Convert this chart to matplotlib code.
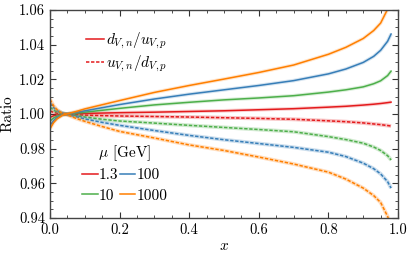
import matplotlib
matplotlib.use("Agg")
import matplotlib.pyplot as plt
from matplotlib.lines import Line2D
from matplotlib.ticker import MultipleLocator

plt.rcParams['font.family'] = 'serif'
plt.rcParams['font.serif'] = ['cmr10']
plt.rcParams['mathtext.fontset'] = 'cm'
plt.rcParams['axes.formatter.use_mathtext'] = True

x = [0.0, 0.01, 0.02, 0.035, 0.05, 0.075, 0.1, 0.15, 0.2, 0.3, 0.4, 0.5, 0.6,
     0.7, 0.8, 0.85, 0.9, 0.93, 0.95, 0.97, 0.98]

scales = ["1.3", "10", "100", "1000"]

dn_up_13 = [0.9982, 0.9990, 0.9995, 0.9999, 1.0001, 1.0002, 1.0004, 1.0006, 1.0008, 1.0011, 1.0015,
            1.0019, 1.0025, 1.0031, 1.0040, 1.0045, 1.0052, 1.0057, 1.0061, 1.0066, 1.0069]
un_dp_13 = [1.0018, 1.0010, 1.0005, 1.0001, 0.9999, 0.9996, 0.9994, 0.9991, 0.9989, 0.9986, 0.9983,
            0.9979, 0.9975, 0.9970, 0.9961, 0.9956, 0.9949, 0.9943, 0.9939, 0.9934, 0.9931]

dn_up_10 = [0.9960, 0.9977, 0.9988, 0.9996, 1.0001, 1.0006, 1.0011, 1.0022, 1.0033, 1.0053, 1.0068,
            1.0082, 1.0093, 1.0106, 1.0127, 1.0140, 1.0157, 1.0175, 1.0192, 1.0222, 1.0248]
un_dp_10 = [1.0040, 1.0023, 1.0012, 1.0004, 0.9999, 0.9991, 0.9983, 0.9970, 0.9960, 0.9948, 0.9935,
            0.9923, 0.9911, 0.9898, 0.9870, 0.9853, 0.9832, 0.9810, 0.9790, 0.9760, 0.9735]

dn_up_100 = [0.9935, 0.9962, 0.9980, 0.9994, 1.0001, 1.0010, 1.0019, 1.0037, 1.0055, 1.0087, 1.0115,
             1.0140, 1.0165, 1.0193, 1.0232, 1.0260, 1.0298, 1.0333, 1.0368, 1.0420, 1.0462]
un_dp_100 = [1.0065, 1.0038, 1.0020, 1.0006, 0.9998, 0.9985, 0.9972, 0.9952, 0.9935, 0.9905, 0.9877,
             0.9852, 0.9830, 0.9808, 0.9780, 0.9755, 0.9717, 0.9685, 0.9655, 0.9610, 0.9573]

dn_up_1000 = [0.9915, 0.9950, 0.9972, 0.9992, 1.0002, 1.0015, 1.0030, 1.0054, 1.0078, 1.0125, 1.0165,
              1.0202, 1.0240, 1.0283, 1.0345, 1.0385, 1.0436, 1.0482, 1.0525, 1.0605, 1.0680]
un_dp_1000 = [1.0085, 1.0048, 1.0025, 1.0005, 0.9995, 0.9975, 0.9958, 0.9928, 0.9900, 0.9862, 0.9822,
              0.9790, 0.9752, 0.9712, 0.9665, 0.9625, 0.9573, 0.9530, 0.9490, 0.9410, 0.9350]

solid = [dn_up_13, dn_up_10, dn_up_100, dn_up_1000]
dashed = [un_dp_13, un_dp_10, un_dp_100, un_dp_1000]
colors = ['#e41a1c', '#4daf4a', '#377eb8', '#ff7f00']

fig = plt.figure(figsize=(4.07, 2.65), dpi=100)
ax = fig.add_axes([0.123, 0.177, 0.855, 0.785])

dash = (0, (2.2, 1.1))
for s, d, c in zip(solid, dashed, colors):
    ax.plot(x, s, color=c, lw=2.6, alpha=0.2, solid_capstyle='butt')
    ax.plot(x, d, color=c, lw=2.8, alpha=0.25, solid_capstyle='butt')
    ax.plot(x, s, color=c, lw=1.1)
    ax.plot(x, d, color=c, lw=1.1, ls=dash)

ax.set_xlim(0, 1)
ax.set_ylim(0.94, 1.06)
ax.xaxis.set_major_locator(MultipleLocator(0.2))
ax.xaxis.set_minor_locator(MultipleLocator(0.05))
ax.yaxis.set_major_locator(MultipleLocator(0.02))
ax.yaxis.set_minor_locator(MultipleLocator(0.005))
ax.tick_params(which='both', direction='in', top=True, right=True, labelsize=10.5, color='#333333')
ax.tick_params(which='major', length=4, width=0.8)
ax.tick_params(which='minor', length=2, width=0.6)
ax.xaxis.set_major_formatter(matplotlib.ticker.FormatStrFormatter('%.1f'))
ax.yaxis.set_major_formatter(matplotlib.ticker.FormatStrFormatter('%.2f'))
for sp in ax.spines.values():
    sp.set_color('#444444')
    sp.set_linewidth(1.0)

ax.set_xlabel(r'$x$', fontsize=11, labelpad=2)
ax.set_ylabel('Ratio', fontsize=11, labelpad=3)

h1 = [Line2D([], [], color=colors[0], lw=1.1),
      Line2D([], [], color=colors[0], lw=1.1, ls=dash)]
leg1 = ax.legend(h1, [r'$d_{V,n}/u_{V,p}$', r'$u_{V,n}/d_{V,p}$'], loc='upper left',
                 bbox_to_anchor=(0.085, 0.93), frameon=False, fontsize=11,
                 handlelength=1.2, handletextpad=0.15, labelspacing=0.2, borderaxespad=0)
ax.add_artist(leg1)

h2 = [Line2D([], [], color=c, lw=1.1) for c in colors]
leg2 = ax.legend(h2, scales, ncol=2, loc='lower left', bbox_to_anchor=(0.075, 0.045),
                 frameon=False, fontsize=11, title=r'$\mu$ [GeV]', title_fontsize=11,
                 handlelength=1.0, handletextpad=0.1, columnspacing=0.1, labelspacing=0.45,
                 borderaxespad=0)
leg2._legend_box.sep = 4

fig.savefig('out.png', dpi=100)
